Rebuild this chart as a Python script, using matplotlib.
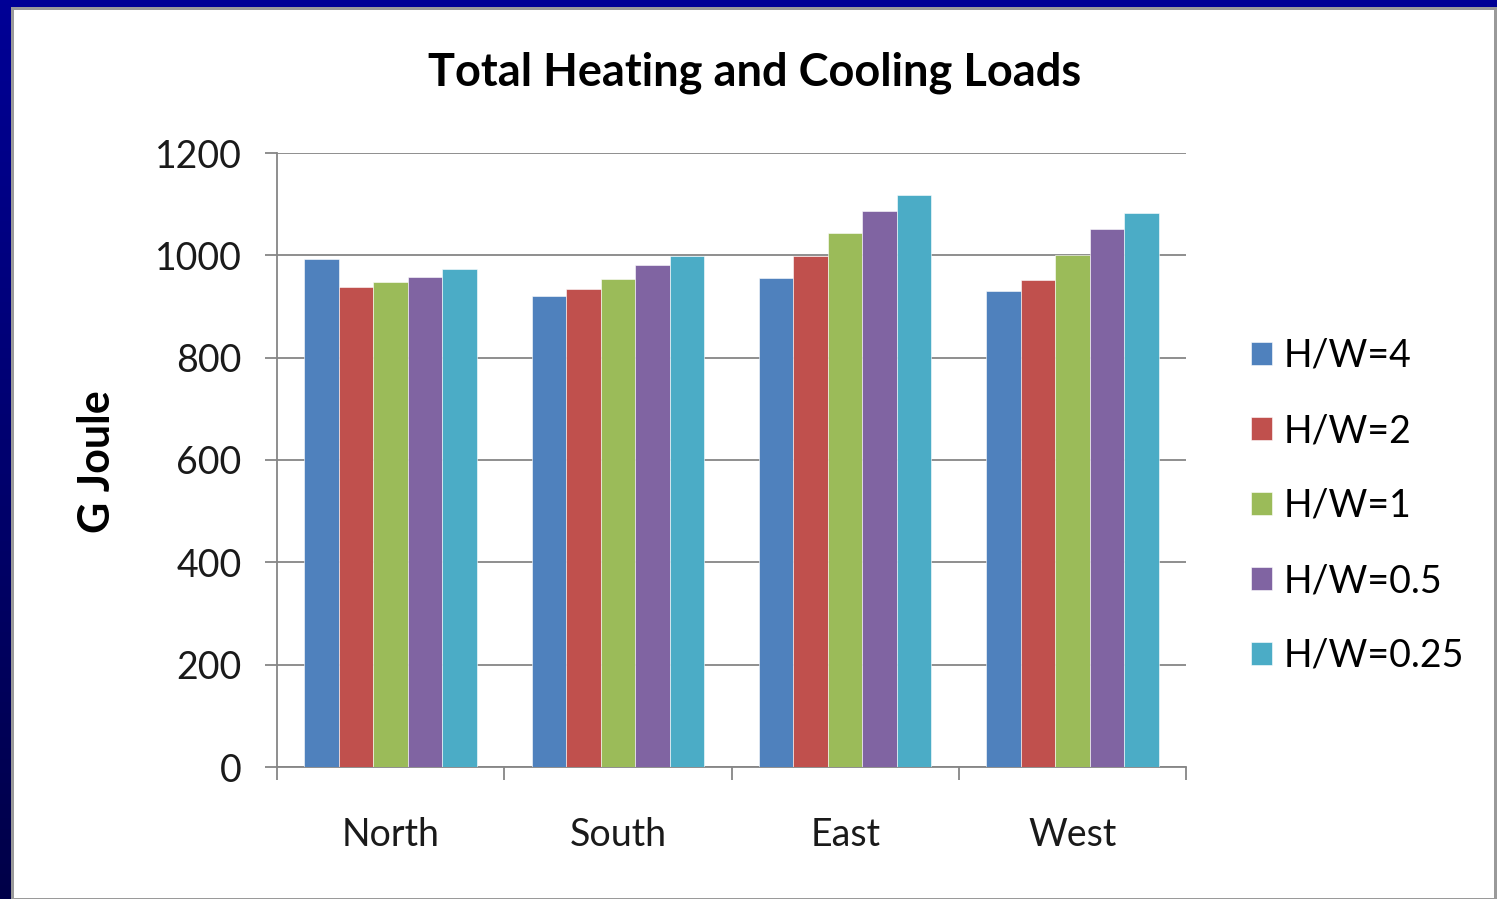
import numpy as np
import matplotlib
matplotlib.use("Agg")
import matplotlib.pyplot as plt
from matplotlib.patches import Rectangle
from matplotlib.colors import LinearSegmentedColormap

directions = ["North", "South", "East", "West"]
series_names = ["H/W=4", "H/W=2", "H/W=1", "H/W=0.5", "H/W=0.25"]
hw_4 = [993, 920, 955, 931]
hw_2 = [939, 935, 998, 951]
hw_1 = [947, 954, 1044, 1000]
hw_05 = [958, 981, 1087, 1051]
hw_025 = [974, 998, 1117, 1082]
colors = ["#4F81BD", "#C0504D", "#9BBB59", "#8064A2", "#4BACC6"]

plt.rcParams['font.family'] = ['Lato', 'DejaVu Sans']

W, H = 1497, 899
fig = plt.figure(figsize=(W / 100, H / 100), dpi=100)

# slide background: dark blue gradient behind the chart frame
bg = fig.add_axes([0, 0, 1, 1], zorder=-10)
bg.axis("off")
navy = LinearSegmentedColormap.from_list("navy", ["#000048", "#000096"])
bg.imshow(np.linspace(0, 1, 256).reshape(-1, 1), cmap=navy, aspect="auto",
          origin="lower", extent=[0, 1, 0, 1])
bg.set_xlim(0, 1)
bg.set_ylim(0, 1)
bg.add_patch(Rectangle((11 / W, 0), 1, (H - 7) / H, facecolor="#9a9a9a",
                       edgecolor="none"))
bg.add_patch(Rectangle((14 / W, 1 / H), (1494 - 14) / W, (H - 10 - 1) / H,
                       facecolor="white", edgecolor="none"))

ax = fig.add_axes([277 / W, 1 - 767 / H, (1186 - 277) / W, (767 - 153) / H])

values = [hw_4, hw_2, hw_1, hw_05, hw_025]
x = np.arange(len(directions))
width = 0.152
for i, (vals, name) in enumerate(zip(values, series_names)):
    ax.bar(x + (i - 2) * width, vals, width, color=colors[i], label=name,
           edgecolor="white", linewidth=0.4, zorder=3)

ax.set_xlim(-0.5, 3.5)
ax.set_ylim(0, 1200)
ax.set_yticks(range(0, 1201, 200))
ax.yaxis.grid(True, color="#868686", linewidth=1.3, zorder=0)
ax.set_xticks(x)
ax.set_xticklabels(directions)
ax.set_xticks(np.arange(-0.5, 4, 1), minor=True)
ax.tick_params(axis="x", which="major", length=0, pad=36, labelsize=27)
ax.tick_params(axis="x", which="minor", length=9.4, color="#868686", width=1.3)
ax.tick_params(axis="y", length=8.6, color="#868686", width=1.3, pad=17, labelsize=27)
for side in ["top", "right"]:
    ax.spines[side].set_visible(False)
for side in ["left", "bottom"]:
    ax.spines[side].set_color("#868686")
    ax.spines[side].set_linewidth(1.3)
for lbl in ax.get_xticklabels() + ax.get_yticklabels():
    lbl.set_color("#1a1a1a")

fig.text(97 / W, 1 - 462 / H, "G Joule", rotation=90, ha="center", va="center",
         fontsize=31, fontweight="bold")
fig.text(755 / W, 1 - 73 / H, "Total Heating and Cooling Loads",
         ha="center", va="center", fontsize=32.5, fontweight="bold")

ax.legend(loc="center left", bbox_to_anchor=(1217 / W, 1 - 506 / H),
          bbox_transform=fig.transFigure, frameon=False,
          fontsize=27, handlelength=0.56, handleheight=0.56, handletextpad=0.32,
          labelspacing=1.04)

fig.savefig("out.png", dpi=100)
